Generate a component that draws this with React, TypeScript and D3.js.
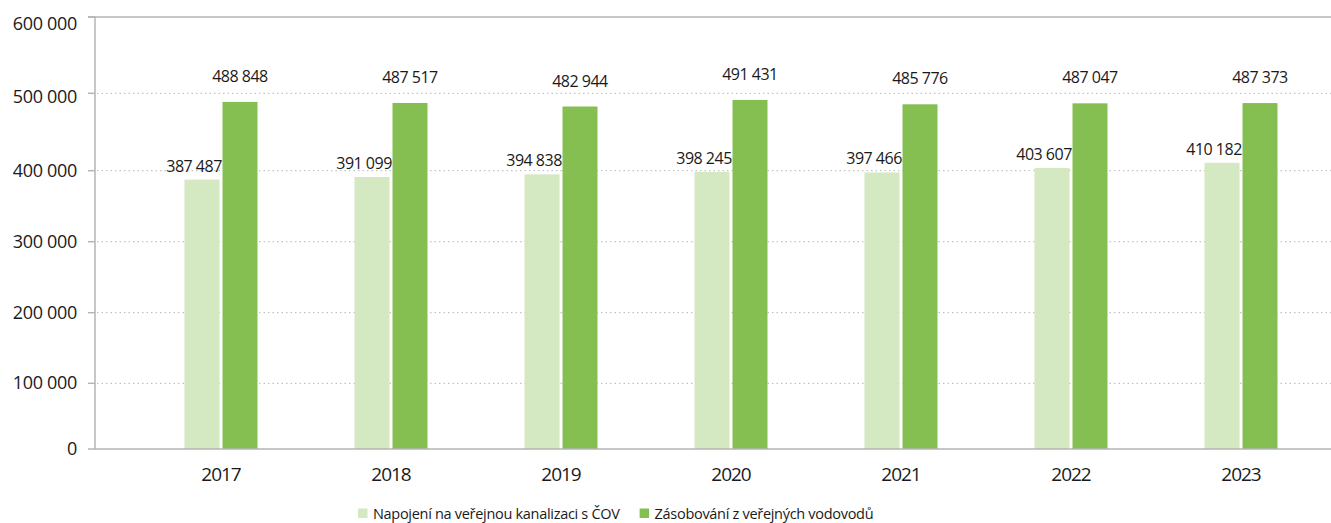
import * as d3 from 'd3';
import React, { useEffect, useRef } from 'react';

// data
const years = ['2017', '2018', '2019', '2020', '2021', '2022', '2023'];
const kanalizace = [387487, 391099, 394838, 398245, 397466, 403607, 410182];
const vodovody = [488848, 487517, 482944, 491431, 485776, 487047, 487373];
const seriesNames = ['Napojení na veřejnou kanalizaci s ČOV', 'Zásobování z veřejných vodovodů'];
const yTicks = [0, 100000, 200000, 300000, 400000, 500000, 600000];

const colors = ['#d4e8c2', '#85bf52'];
const width = 1331;
const height = 523;
const FONT = '"Open Sans", "Noto Sans", sans-serif';

const fmt = (v: number) => d3.format(',')(v).replace(/,/g, ' ');

function Chart() {
    const ref = useRef<SVGSVGElement>(null);

    useEffect(() => {
        document.body.style.margin = '0';
        const svg = d3.select(ref.current);
        svg.selectAll('*').remove();

        const left = 95;
        const right = 1331;
        const top = 17;
        const bottom = 449;

        // the reference axis is slightly uneven, so map each tick to where it sits
        const y = d3.scaleLinear()
            .domain(yTicks)
            .range([bottom, 383.3, 312.7, 241.7, 170.7, 93.3, top]);

        const x = d3.scaleBand().domain(years).range([136, 1326]);
        const x1 = d3.scaleBand<number>().domain([0, 1]).range([0, 73]).paddingInner(3 / 38);

        // grid
        svg.append('g')
            .selectAll('line')
            .data(yTicks.filter(t => t > 0 && t < 600000))
            .enter()
            .append('line')
            .attr('x1', left + 2)
            .attr('x2', right)
            .attr('y1', d => y(d))
            .attr('y2', d => y(d))
            .attr('stroke', '#b5b5b5')
            .attr('stroke-width', 1)
            .attr('stroke-dasharray', '1.5,3');

        // tick marks
        svg.append('g')
            .selectAll('line')
            .data(yTicks)
            .enter()
            .append('line')
            .attr('x1', left - 7)
            .attr('x2', left)
            .attr('y1', d => y(d))
            .attr('y2', d => y(d))
            .attr('stroke', '#b5b5b5')
            .attr('stroke-width', 1.5);

        // y labels
        svg.append('g')
            .selectAll('text')
            .data(yTicks)
            .enter()
            .append('text')
            .attr('x', 77)
            .attr('y', d => y(d) + 6 + (d === 600000 ? 7 : d === 500000 ? 4 : 0))
            .attr('text-anchor', 'end')
            .style('font-family', FONT)
            .style('font-size', '18px')
            .style('letter-spacing', '-0.3px')
            .attr('fill', '#1a1a1a')
            .text(d => fmt(d));

        // bars
        const groups = svg.append('g')
            .selectAll('g')
            .data(years)
            .enter()
            .append('g')
            .attr('transform', d => 'translate(' + ((x(d) as number) + x.bandwidth() / 2 - 36.5) + ',0)');

        groups.selectAll('rect')
            .data((d, i) => [kanalizace[i], vodovody[i]])
            .enter()
            .append('rect')
            .attr('x', (d, j) => x1(j) as number)
            .attr('width', x1.bandwidth())
            .attr('y', d => y(d))
            .attr('height', d => bottom - y(d))
            .attr('fill', (d, j) => colors[j]);

        groups.selectAll('text.val')
            .data((d, i) => [kanalizace[i], vodovody[i]])
            .enter()
            .append('text')
            .attr('class', 'val')
            .attr('x', (d, j) => (x1(j) as number) + x1.bandwidth() / 2 + (j === 0 ? -8 : 0))
            .attr('y', (d, j) => y(d) - (j === 0 ? 8 : 20))
            .attr('text-anchor', 'middle')
            .style('font-family', FONT)
            .style('font-size', '16px')
            .style('letter-spacing', '-0.5px')
            .attr('fill', '#1a1a1a')
            .text(d => fmt(d));

        // axis lines
        svg.append('line')
            .attr('x1', left - 7).attr('x2', right)
            .attr('y1', top).attr('y2', top)
            .attr('stroke', '#b5b5b5').attr('stroke-width', 1.5);
        svg.append('line')
            .attr('x1', left).attr('x2', left)
            .attr('y1', top).attr('y2', bottom)
            .attr('stroke', '#b5b5b5').attr('stroke-width', 1.5);
        svg.append('line')
            .attr('x1', left).attr('x2', right)
            .attr('y1', bottom).attr('y2', bottom)
            .attr('stroke', '#b5b5b5').attr('stroke-width', 1.5);

        // x labels
        svg.append('g')
            .selectAll('text')
            .data(years)
            .enter()
            .append('text')
            .attr('x', d => (x(d) as number) + x.bandwidth() / 2)
            .attr('y', 481)
            .attr('text-anchor', 'middle')
            .style('font-family', FONT)
            .style('font-size', '19px')
            .style('letter-spacing', '-1px')
            .attr('fill', '#1a1a1a')
            .text(d => d);

        // legend, items laid out one after another by measured width
        const legend = svg.append('g').attr('transform', 'translate(358,513)');
        let lx = 0;
        seriesNames.forEach((name, i) => {
            legend.append('rect')
                .attr('x', lx)
                .attr('y', -4.5)
                .attr('width', 9.5)
                .attr('height', 9.5)
                .attr('fill', colors[i]);
            const t = legend.append('text')
                .attr('x', lx + 15)
                .attr('y', 6)
                .style('font-family', FONT)
                .style('font-size', '14.5px')
                .style('letter-spacing', '-0.3px')
                .attr('fill', '#1a1a1a')
                .text(name);
            lx += 15 + (t.node() as SVGTextElement).getComputedTextLength() + 20;
        });
    }, []);

    return <svg ref={ref} width={width} height={height} style={{ display: 'block' }} />;
}

export default function App() {
    return <Chart />;
}
